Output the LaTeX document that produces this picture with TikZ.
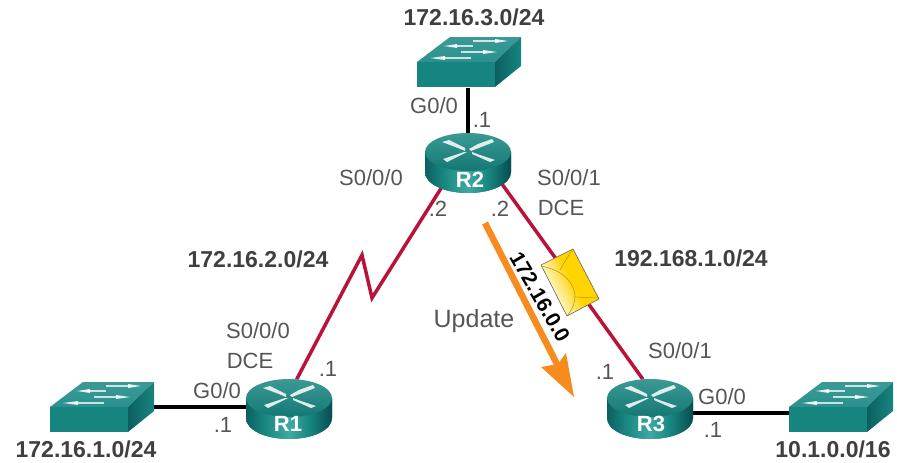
\documentclass[tikz,border=0pt]{standalone}
\usepackage{fontspec}
\setmainfont{Liberation Sans}
\usetikzlibrary{shapes.geometric,calc}
\definecolor{lab}{HTML}{555555}
\definecolor{bold}{HTML}{3F3F3F}
\definecolor{redl}{HTML}{B8143A}
\definecolor{orangea}{HTML}{F78B1E}
\definecolor{tealtop}{HTML}{2A918D}
\definecolor{tealface}{HTML}{17857F}
\definecolor{tealdark}{HTML}{0C5F60}
\definecolor{tealdeep}{HTML}{084C4E}
\definecolor{teallite}{HTML}{3FA8A2}
\definecolor{envy}{HTML}{FFD400}
\definecolor{envm}{HTML}{FFE77A}
\definecolor{envl}{HTML}{FFFBE6}
\pgfdeclarehorizontalshading{rbody}{100bp}{color(0bp)=(tealdark); color(25bp)=(tealdark); color(35bp)=(tealface); color(50bp)=(teallite); color(62bp)=(tealface); color(75bp)=(tealdeep); color(100bp)=(tealdeep)}
\pgfdeclarehorizontalshading{envs}{100bp}{color(0bp)=(envl); color(30bp)=(envl); color(42bp)=(envm); color(52bp)=(envy); color(100bp)=(envy)}
\tikzset{
 x=1pt,y=-1pt,
 lbl/.style={text=lab,font=\fontsize{22}{22}\selectfont,inner sep=0pt},
 net/.style={text=bold,font=\fontsize{23}{23}\selectfont\bfseries,inner sep=0pt},
 rname/.style={text=white,font=\fontsize{22}{22}\selectfont\bfseries,inner sep=0pt},
 devanchor/.style={ellipse,minimum width=85pt,minimum height=62pt,inner sep=0pt},
 swanchor/.style={rectangle,minimum width=80pt,minimum height=25pt,inner sep=0pt},
 blackl/.style={line width=4pt,black},
 redlink/.style={line width=3.5pt,redl,line join=miter},
 wedge/.style={fill=white,opacity=.85},
 swline/.style={white,opacity=.75,line width=1.3pt},
 envfold/.style={black!30!envy,line width=.5pt},
 pics/router/.style={code={
   \fill[tealface] (-43,0) -- (-43,20) .. controls (-43,32) and (-24,41) .. (0,41) .. controls (24,41) and (43,32) .. (43,20) -- (43,0) -- cycle;
   \shade[shading=rbody] (-43,0) -- (-43,20) .. controls (-43,32) and (-24,41) .. (0,41) .. controls (24,41) and (43,32) .. (43,20) -- (43,0) -- cycle;
   \shade[top color=tealtop!92!white,bottom color=tealface!90!black] (0,0) ellipse[x radius=43,y radius=19];
   \fill[wedge] (-26,-10) -- (-19,-12) -- (-3,-4) -- (-3,-1) -- (-10,-4) -- cycle;
   \fill[wedge] (24,-13) -- (26,-10) -- (3,-1) -- (1,-3) -- (10,-8) -- cycle;
   \fill[wedge] (-21,10) -- (-25,7) -- (-4,0) -- (-1,0) -- (-9,4) -- cycle;
   \fill[wedge] (27,8) -- (22,10) -- (4,2) -- (4,0) -- (12,3) -- cycle;
 }},
 pics/switch/.style={code={
   \shade[top color=tealtop!92!white,bottom color=tealtop] (0,0) -- (33,-25) -- (104,-25) -- (78,0) -- cycle;
   \fill[tealface] (0,0) rectangle (78,25);
   \shade[left color=tealdark,right color=tealface] (78,0) -- (104,-25) -- (104,4) -- (78,25) -- cycle;
   \draw[swline] (56,-21) -- (82,-21);
   \fill[wedge] (78,-23) -- (91,-21) -- (78,-19) -- cycle;
   \draw[swline] (56,-16) -- (36,-16);
   \fill[wedge] (40,-18) -- (27,-16) -- (40,-14) -- cycle;
   \draw[swline] (44,-10) -- (70,-10);
   \fill[wedge] (66,-12) -- (80,-10) -- (66,-8) -- cycle;
   \draw[swline] (54,-4) -- (24,-4);
   \fill[wedge] (28,-6) -- (13,-4) -- (28,-2) -- cycle;
 }},
}
\begin{document}
\begin{tikzpicture}
\useasboundingbox (0,0) rectangle (897,463);
% anchors
\node[devanchor] (R2) at (468,164) {};
\node[devanchor] (R1) at (289,410) {};
\node[devanchor] (R3) at (650,410) {};
\node[swanchor] (S2) at (457,75) {};
\node[swanchor] (S1) at (90,420) {};
\node[swanchor] (S3) at (829,420) {};
\coordinate (z1) at (362,255);
\coordinate (z2) at (372,298);
\coordinate (sw1e) at (150,407);
% links
\draw[blackl] (S2.south -| R2) -- (R2.north);
\draw[blackl] (sw1e) -- (R1.west |- sw1e);
\draw[blackl] (R3.east |- 0,413) -- (S3.west |- 0,413);
\draw[redlink] (R1.76) -- (z1) -- (z2) -- (R2.222);
\draw[redlink] (R2.-30) -- (R3.103);
% devices
\pic at (468,152) {router};
\pic at (289,398) {router};
\pic at (650,398) {router};
\pic at (417,62) {switch};
\pic at (50,407) {switch};
\pic at (789,407) {switch};
\node[rname] (nR2) at (470,180) {R2};
\node[rname] (nR1) at (288,424) {R1};
\node[rname] (nR3) at (651,424) {R3};
% envelope
\fill[envy] (573,249) -- (599,299) -- (567,316) -- (541,265) -- cycle;
\shade[shading=envs,shading angle=27]
 (573,249) -- (599,299) -- (567,316) -- (541,265) -- cycle;
\draw[envfold] (541,266) .. controls (560,270) and (572,278) .. (575,295) .. controls (575,303) and (573,308) .. (567,316);
\draw[envfold] (573,249) .. controls (568,256) and (564,263) .. (560,270);
\draw[envfold] (574,297) -- (599,298);
\draw[black!60,line width=.6pt] (573,249) -- (599,299) -- (567,316) -- (541,265) -- cycle;
% orange arrow
\coordinate (atail) at (485,223);
\coordinate (anotch) at (558,366);
\draw[orangea,line width=6.5pt] (atail) -- (anotch);
\fill[orangea] (574,397) -- (541,367) -- (558,364) -- (566,353) -- cycle;
\node[text=black,font=\fontsize{21}{21}\selectfont\bfseries,rotate=-60,inner sep=0pt] (upd) at (540,297) {172.16.0.0};
% labels
\node[net] (a) at (474,17) {172.16.3.0/24};
\node[net] (b) at (258,259) {172.16.2.0/24};
\node[net] (c) at (691,258) {192.168.1.0/24};
\node[net] (d) at (86,449) {172.16.1.0/24};
\node[net] (e) at (833,449) {10.1.0.0/16};
\node[lbl] (f) at (434,106) {G0/0};
\node[lbl] (g) at (482,120) {.1};
\node[lbl] (h) at (371,178) {S0/0/0};
\node[lbl] (i) at (569,178) {S0/0/1};
\node[lbl] (j) at (561,208) {DCE};
\node[lbl] (k) at (438,209) {.2};
\node[lbl] (l) at (500,209) {.2};
\node[lbl,font=\fontsize{25}{25}\selectfont] (m) at (474,321) {Update};
\node[lbl] (n) at (258,331) {S0/0/0};
\node[lbl] (o) at (250,361) {DCE};
\node[lbl] (p) at (328,369) {.1};
\node[lbl] (q) at (217,391) {G0/0};
\node[lbl] (r) at (223,425) {.1};
\node[lbl] (s) at (680,351) {S0/0/1};
\node[lbl] (t) at (605,372) {.1};
\node[lbl] (u) at (722,397) {G0/0};
\node[lbl] (v) at (713,430) {.1};
\end{tikzpicture}
\end{document}
